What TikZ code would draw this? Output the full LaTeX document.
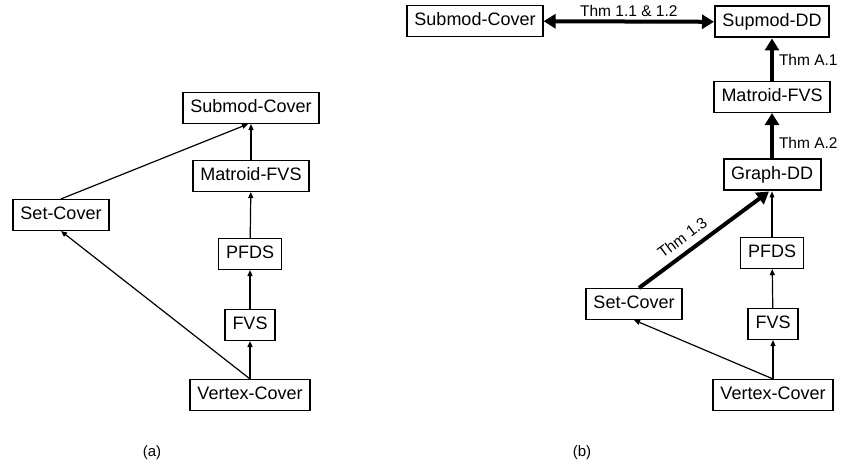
\documentclass[tikz,border=0pt]{standalone}
\usepackage{fontspec}
\setmainfont{Liberation Sans}
\usetikzlibrary{arrows.meta}

\tikzset{
  prob/.style={draw, line width=1.1pt, inner xsep=7.5pt, inner ysep=0pt,
    minimum height=31pt, text height=13pt, text depth=4pt,
    font=\fontsize{18}{20}\selectfont},
  probbold/.style={prob, line width=2pt},
  reduce/.style={line width=1.2pt, -{Triangle[length=6pt,width=5pt]}},
  thm/.style={line width=4pt, -{Triangle[length=12pt,width=14pt]}},
  thmlabel/.style={font=\fontsize{15.5}{17}\selectfont, inner sep=3pt},
  caption/.style={font=\fontsize{15}{17}\selectfont}
}

\begin{document}
\begin{tikzpicture}[x=1pt,y=-1pt]
  \useasboundingbox (0,0) rectangle (842,470);

  % (a)
  \node[prob] (submodA) at (251,108) {Submod-Cover};
  \node[prob] (matroidA) at (251,176) {Matroid-FVS};
  \node[prob] (setcoverA) at (61,215) {Set-Cover};
  \node[prob] (pfdsA) at (250,254) {PFDS};
  \node[prob] (fvsA) at (250,325) {FVS};
  \node[prob] (vcA) at (250,395) {Vertex-Cover};

  \draw[reduce] (vcA) -- (fvsA);
  \draw[reduce] (fvsA) -- (pfdsA);
  \draw[reduce] (pfdsA) -- (matroidA);
  \draw[reduce] (matroidA) -- (submodA);
  \draw[reduce] (vcA.north) -- (setcoverA.south);
  \draw[reduce] (setcoverA.north) -- ([xshift=-3pt]submodA.south);

  \node[caption] (capA) at (152,453) {(a)};

  % (b)
  \node[prob] (submodB) at (475,21) {Submod-Cover};
  \node[probbold] (supmodB) at (772,22) {Supmod-DD};
  \node[prob] (matroidB) at (772,97) {Matroid-FVS};
  \node[probbold] (graphB) at (772,175) {Graph-DD};
  \node[prob] (pfdsB) at (772,253) {PFDS};
  \node[prob] (setcoverB) at (634,304) {Set-Cover};
  \node[prob] (fvsB) at (773,324) {FVS};
  \node[prob] (vcB) at (773,395) {Vertex-Cover};

  \draw[reduce] (vcB) -- (fvsB);
  \draw[reduce] (fvsB) -- (pfdsB);
  \draw[reduce] (pfdsB) -- (graphB);
  \draw[reduce] (vcB.north) -- (setcoverB.south);

  \draw[thm] ([xshift=5pt]setcoverB.north) -- ([xshift=-3pt]graphB.south)
    node[thmlabel, pos=0.4, sloped, above=4pt] {Thm 1.3};
  \draw[thm] (graphB) -- (matroidB)
    node[thmlabel, pos=0.35, right=2pt] {Thm A.2};
  \draw[thm] (matroidB) -- (supmodB)
    node[thmlabel, midway, right=2pt] {Thm A.1};
  \draw[thm, {Triangle[length=12pt,width=14pt]}-{Triangle[length=12pt,width=14pt]}] (submodB) -- (supmodB)
    node[thmlabel, midway, above=0pt] {Thm 1.1 \& 1.2};

  \node[caption] (capB) at (582,453) {(b)};
\end{tikzpicture}
\end{document}
